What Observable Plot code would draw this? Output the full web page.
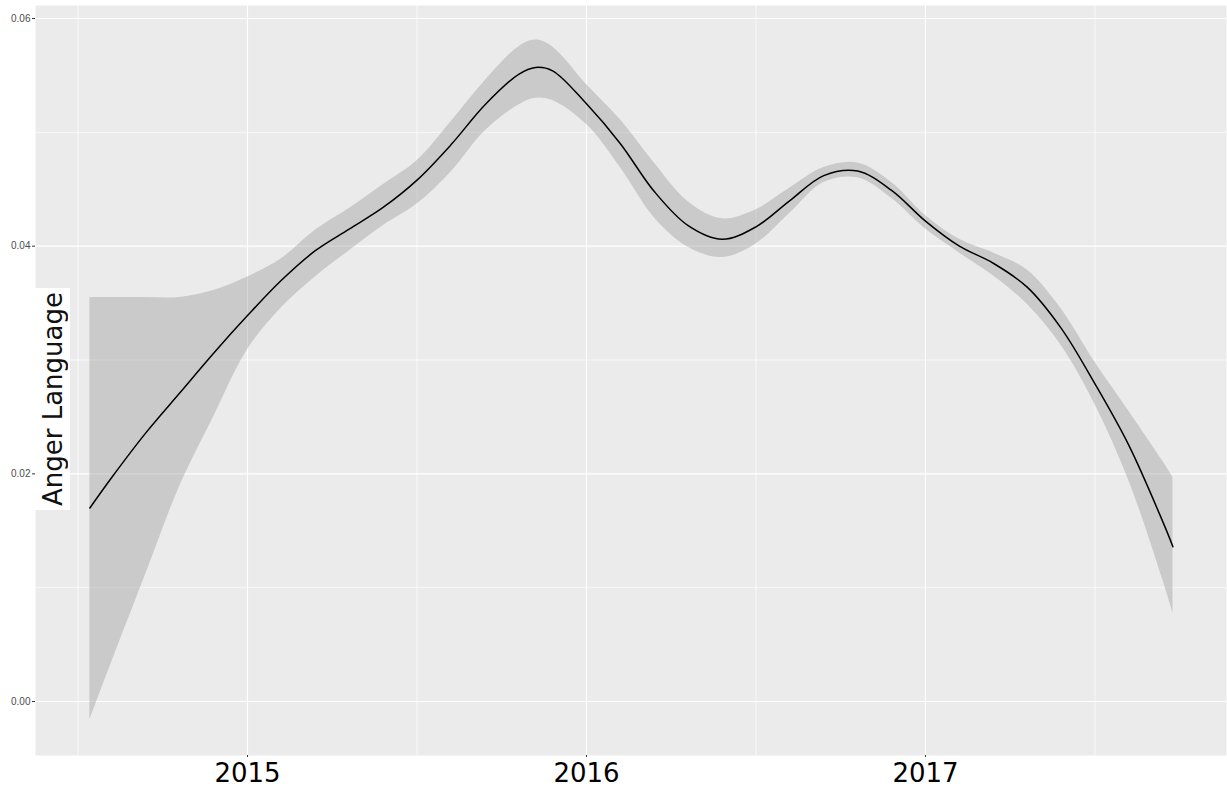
<!DOCTYPE html>
<html>
<head>
<meta charset="utf-8">
<script src="https://cdn.jsdelivr.net/npm/d3@7"></script>
<script src="https://cdn.jsdelivr.net/npm/@observablehq/plot@0.6"></script>
<style>
  html, body { margin: 0; padding: 0; background: #ffffff; }
  #wrap { position: relative; width: 1227px; height: 792px; }
  #ylab {
    position: absolute; left: 35px; top: 288px; width: 35px; height: 222px;
    background: #ffffff; display: flex; align-items: center; justify-content: center;
  }
  #ylab span {
    writing-mode: vertical-rl; transform: rotate(180deg);
    font-family: "DejaVu Sans", sans-serif; font-size: 26px; color: #111111;
    white-space: nowrap; line-height: 1;
  }
</style>
</head>
<body>
<div id="wrap"></div>
<script>
// Decimal-year time points of the smoothed series
const times = [2014.535, 2014.6, 2014.7, 2014.8, 2014.9, 2015.0, 2015.1, 2015.2, 2015.3, 2015.4,
  2015.5, 2015.6, 2015.7, 2015.8, 2015.85, 2015.9, 2016.0, 2016.1, 2016.2, 2016.3, 2016.4,
  2016.5, 2016.6, 2016.7, 2016.8, 2016.9, 2017.0, 2017.1, 2017.2, 2017.3, 2017.4,
  2017.5, 2017.6, 2017.7, 2017.73];
// Fitted (smoothed) anger-language values
const fit = [0.0170, 0.0197, 0.0236, 0.0271, 0.0306, 0.0339, 0.0370, 0.0396, 0.0415, 0.0434,
  0.0458, 0.0489, 0.0524, 0.0551, 0.0557, 0.0554, 0.0525, 0.0490, 0.0448, 0.0418, 0.0406,
  0.0417, 0.0440, 0.0462, 0.0466, 0.0449, 0.0422, 0.0400, 0.0385, 0.0364, 0.0328,
  0.0279, 0.0225, 0.0158, 0.0136];
// Upper confidence bound
const upper = [0.0355, 0.0355, 0.0355, 0.0355, 0.0361, 0.0373, 0.0389, 0.0414, 0.0433, 0.0454,
  0.0475, 0.0509, 0.0545, 0.0575, 0.0581, 0.0575, 0.0542, 0.0511, 0.0473, 0.0439, 0.0424,
  0.0432, 0.0451, 0.0469, 0.0473, 0.0456, 0.0427, 0.0406, 0.0394, 0.0379, 0.0345,
  0.0298, 0.0255, 0.0211, 0.0197];
// Lower confidence bound
const lower = [-0.0016, 0.0035, 0.0112, 0.0189, 0.0250, 0.0309, 0.0346, 0.0373, 0.0396, 0.0418,
  0.0437, 0.0465, 0.0501, 0.0524, 0.0530, 0.0528, 0.0507, 0.0469, 0.0425, 0.0399, 0.0390,
  0.0402, 0.0429, 0.0456, 0.0460, 0.0442, 0.0415, 0.0394, 0.0374, 0.0349, 0.0313,
  0.0261, 0.0194, 0.0107, 0.0078];

const xTicks = [2015, 2016, 2017];
const xMinor = [2014.5, 2015.5, 2016.5, 2017.5];
const yTicks = [0, 0.02, 0.04, 0.06];
const yMinor = [0.01, 0.03, 0.05];
const yLabel = "Anger Language";

const data = times.map((t, i) => ({t, fit: fit[i], hi: upper[i], lo: lower[i]}));

const chart = Plot.plot({
  width: 1227,
  height: 792,
  marginLeft: 35,
  marginRight: 1,
  marginTop: 5,
  marginBottom: 37,
  style: {background: "#ffffff", overflow: "visible"},
  x: {domain: [2014.3746, 2017.888]},
  y: {domain: [-0.00474, 0.06114]},
  marks: [
    Plot.frame({fill: "#EBEBEB", stroke: null}),
    Plot.gridY(yMinor, {stroke: "#ffffff", strokeOpacity: 1, strokeWidth: 0.7}),
    Plot.gridX(xMinor, {stroke: "#ffffff", strokeOpacity: 1, strokeWidth: 0.7}),
    Plot.gridY(yTicks, {stroke: "#ffffff", strokeOpacity: 1, strokeWidth: 1.1}),
    Plot.gridX(xTicks, {stroke: "#ffffff", strokeOpacity: 1, strokeWidth: 1.1}),
    Plot.areaY(data, {x: "t", y1: "lo", y2: "hi", fill: "#999999", fillOpacity: 0.4, curve: "catmull-rom"}),
    Plot.line(data, {x: "t", y: "fit", stroke: "#000000", strokeWidth: 1.5, curve: "catmull-rom"}),
    Plot.axisY(yTicks, {tickFormat: d3.format(".2f"), fontSize: 10, fontFamily: "Liberation Sans, Arial, sans-serif",
      color: "#4D4D4D", tickSize: 3, tickPadding: 2, label: null, stroke: "#333333"}),
    Plot.axisX(xTicks, {tickFormat: d => String(d), fontSize: 26, fontFamily: "DejaVu Sans, sans-serif",
      color: "#000000", tickSize: 2, tickPadding: 6, label: null, stroke: "#333333"})
  ]
});

const wrap = document.getElementById("wrap");
wrap.appendChild(chart);
const lab = document.createElement("div");
lab.id = "ylab";
const sp = document.createElement("span");
sp.textContent = yLabel;
lab.appendChild(sp);
wrap.appendChild(lab);
</script>
</body>
</html>
